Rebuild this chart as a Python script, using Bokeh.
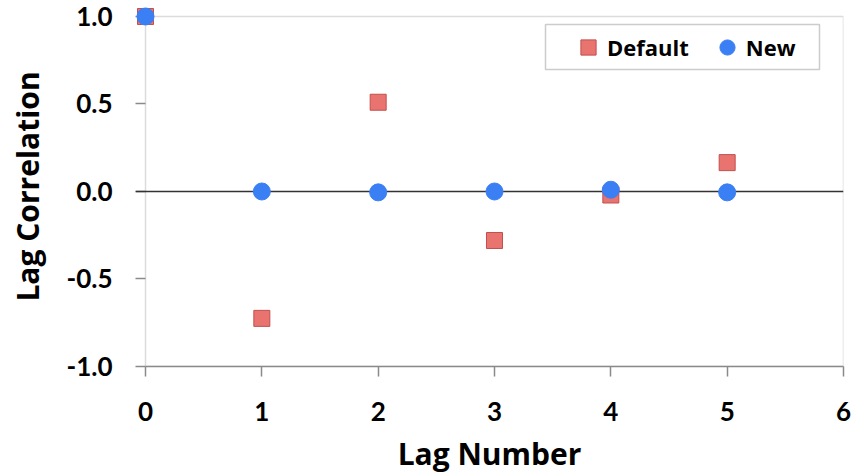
from bokeh.plotting import figure
from bokeh.models import (Span, Legend, LegendItem, BoxAnnotation, FixedTicker,
                          Range1d, NumeralTickFormatter)
from bokeh.embed import file_html
from bokeh.resources import INLINE

# ---- data ----
lags = [0, 1, 2, 3, 4, 5]
default_corr = [1.0, -0.725, 0.51, -0.28, -0.02, 0.165]
new_corr = [1.0, 0.0, -0.005, 0.0, 0.01, -0.005]
series_names = ["Default", "New"]
x_ticks = [0, 1, 2, 3, 4, 5, 6]
y_ticks = [-1.0, -0.5, 0.0, 0.5, 1.0]
x_title = "Lag Number"
y_title = "Lag Correlation"

FONT = "Open Sans"
TICK_FONT = "Lato"
GRAY = "#8a8a8a"

# ranges padded slightly (left / top) so the corner markers are not clipped;
# the visible plot border is drawn at the tick extents below
p = figure(width=862, height=476, x_range=Range1d(-0.086, 6), y_range=Range1d(-1, 1.0571),
           output_backend="svg", toolbar_location=None,
           min_border_left=135, min_border_right=19, min_border_top=6,
           min_border_bottom=110)

p.xgrid.grid_line_color = None
p.ygrid.grid_line_color = None
p.outline_line_color = None
p.background_fill_color = "white"
p.border_fill_color = "white"

p.xaxis.ticker = FixedTicker(ticks=x_ticks)
p.yaxis.ticker = FixedTicker(ticks=y_ticks)
p.yaxis.formatter = NumeralTickFormatter(format="0.0")
p.xaxis.bounds = (x_ticks[0], x_ticks[-1])

for ax in (p.xaxis[0], p.yaxis[0]):
    ax.axis_line_color = GRAY
    ax.axis_line_width = 1.5
    ax.major_tick_line_color = GRAY
    ax.major_tick_line_width = 1.5
    ax.minor_tick_line_color = None
    ax.major_label_text_font = TICK_FONT
    ax.major_label_text_font_style = "bold"
    ax.major_label_text_font_size = "26px"
    ax.major_label_text_color = "black"
    ax.axis_label_text_font = FONT
    ax.axis_label_text_font_style = "bold"
    ax.axis_label_text_font_size = "30px"
    ax.axis_label_text_color = "black"

p.xaxis.major_tick_out = 10
p.xaxis.major_tick_in = 0
p.yaxis.axis_line_color = None
p.yaxis.major_tick_out = 0
p.yaxis.major_tick_in = 10

p.xaxis.axis_label = x_title
p.yaxis.axis_label = y_title
p.xaxis.major_label_standoff = 25
p.yaxis.major_label_standoff = 23
p.xaxis.axis_label_standoff = 9
p.yaxis.axis_label_standoff = 15

# plot-area border
frame_box = BoxAnnotation(left=x_ticks[0], right=x_ticks[-1], bottom=y_ticks[0], top=y_ticks[-1],
                          fill_alpha=0, line_color=GRAY, line_width=1.5, level="underlay")
p.add_layout(frame_box)

zero = Span(location=0, dimension="width", line_color="#333333", line_width=1.5)
p.add_layout(zero)

r1 = p.scatter(lags, default_corr, marker="square", size=16,
               fill_color="#e8736f", line_color="#c0504d", line_width=1, level="overlay")
r2 = p.scatter(lags, new_corr, marker="circle", size=17,
               fill_color="#3a7ff4", line_color="#3a7ff4", line_width=1, level="overlay")

# legend
box = BoxAnnotation(left=410, right=684, bottom=297, top=342,
                    left_units="screen", right_units="screen",
                    bottom_units="screen", top_units="screen",
                    fill_alpha=0, line_color="#555555", line_width=1.5)
p.add_layout(box)

legend = Legend(items=[LegendItem(label=series_names[0], renderers=[r1]),
                       LegendItem(label=series_names[1], renderers=[r2])],
                orientation="horizontal", location=(434, 300),
                glyph_width=38, glyph_height=38, label_standoff=0,
                spacing=19, padding=0, margin=0,
                border_line_alpha=0, background_fill_alpha=0,
                label_text_font=FONT, label_text_font_style="bold",
                label_text_font_size="22px", label_text_color="black")
p.add_layout(legend)

open("out.html", "w").write(file_html(p, INLINE))
